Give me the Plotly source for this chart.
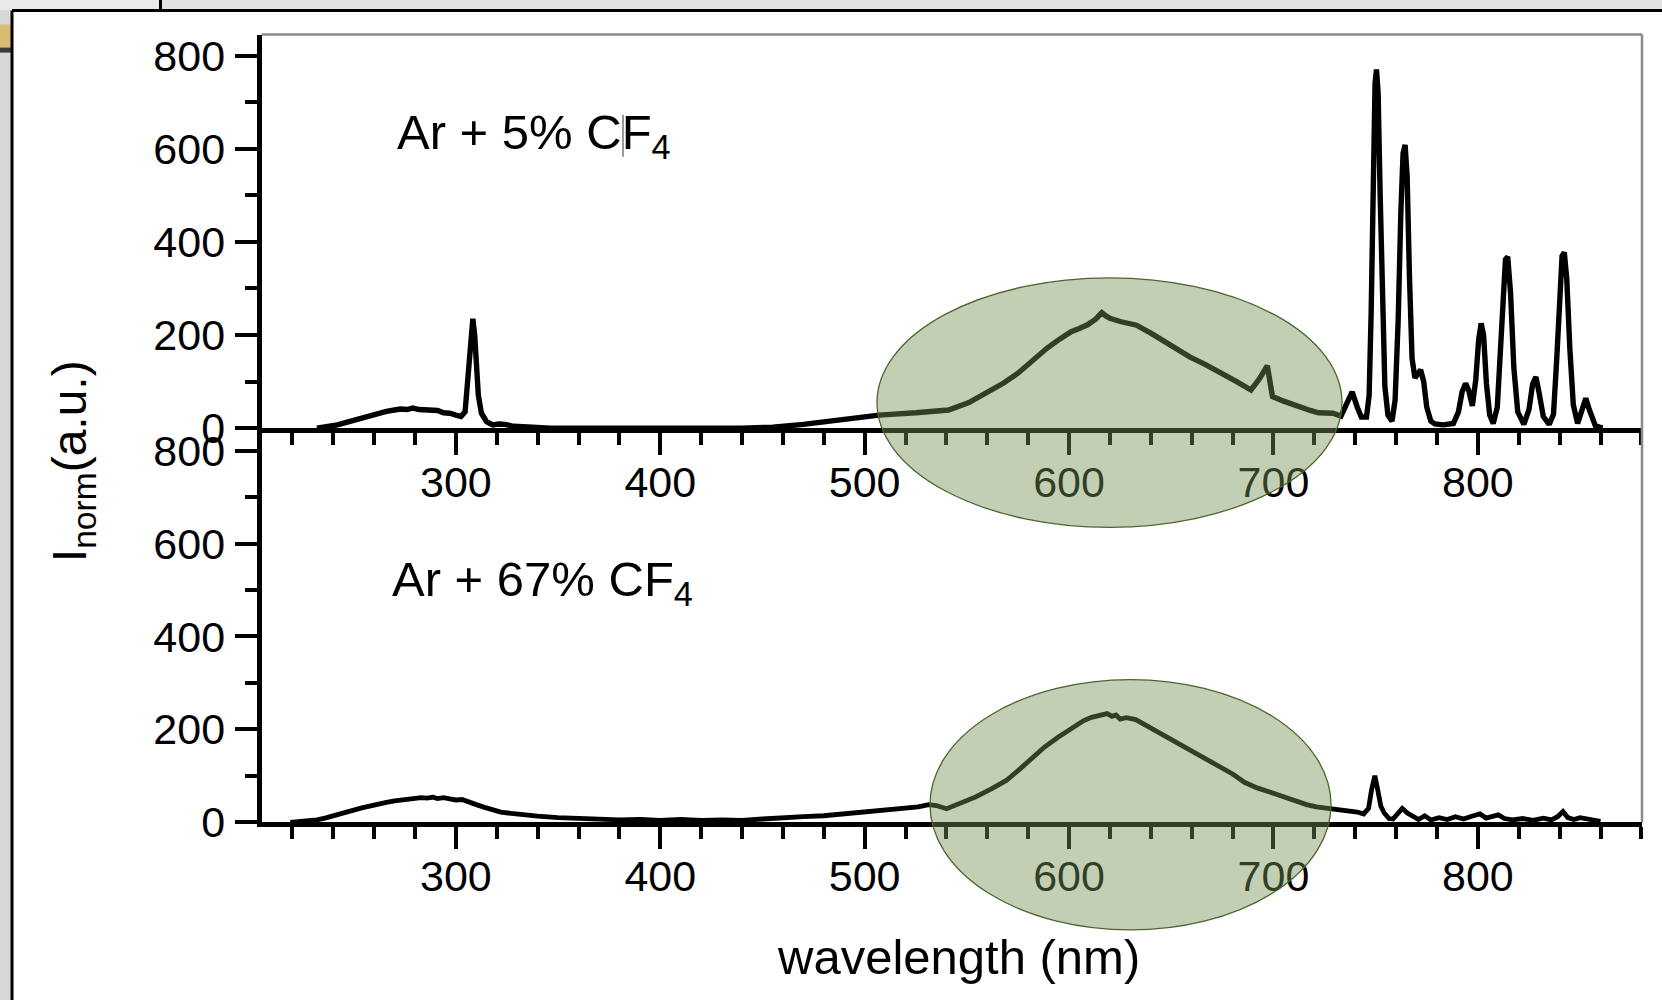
import plotly.graph_objects as go

W, H = 1662, 1000
FONT = "Liberation Sans, Arial, sans-serif"

# ---------------- data ----------------
# Ar + 5% CF4 (upper panel)
wl_top = [232, 238, 242, 246, 250, 254, 258, 262, 266, 270, 273, 276, 279, 282, 285, 288, 291, 294, 297, 300,
          302.5, 304.5, 305.5, 306.5, 307.5, 308.3, 309.2, 310, 311, 312.5, 315, 318, 321, 324, 328, 333, 340, 346,
          440, 455, 470, 490, 507, 525, 541, 551, 561, 568, 575, 582, 589, 595, 601, 605, 609, 613, 616, 618,
          620, 625, 629, 633, 640, 650, 659, 667, 675, 682, 689, 693, 697, 699.5, 705, 712, 718, 722, 729, 733,
          735.5, 738.5, 741, 743, 745.5, 746.8, 747.8, 748.8, 749.7, 750.4, 751.2, 752.2, 753.2, 754.5, 756, 758,
          759.5, 761, 762.3, 763.4, 764.4, 765.4, 766.5, 767.8, 769.2, 770.6, 772, 773.5, 775, 777, 779, 783,
          788, 790.5, 792.3, 794, 795.6, 797.3, 799, 800.4, 801.6, 802.8, 804.2, 805.8, 807.5, 809.5, 811, 812.4,
          813.5, 814.6, 816, 817.6, 819.5, 822.5, 825, 826.8, 828.4, 830, 832, 834.9, 837, 838.6, 840, 841.2,
          842.3, 843.5, 845, 846.7, 848.8, 851, 852.8, 854.5, 857.5, 861]
int_top = [0, 3, 7, 12, 17, 23, 28, 32, 36, 39, 41, 40, 43, 40, 39, 37, 38, 33, 32, 28,
           25, 35, 90, 170, 222, 235, 200, 140, 70, 32, 14, 7, 9, 8, 4, 3, 2, 0,
           0, 2, 8, 18, 28, 33, 39, 55, 78, 97, 118, 145, 171, 190, 207, 214, 222, 234, 248, 241,
           236, 229, 226, 221, 204, 178, 153, 136, 118, 100, 82, 105, 134, 68, 58, 46, 38, 33, 32, 26,
           48, 78, 45, 24, 24, 70, 250, 560, 740, 770, 720, 500, 260, 90, 28, 15,
           60, 230, 460, 590, 608, 540, 330, 150, 108, 118, 125, 100, 45, 15, 9, 7,
           10, 35, 78, 96, 80, 48, 105, 190, 225, 200, 95, 28, 10, 45, 180, 310,
           362, 368, 290, 130, 35, 8, 40, 95, 110, 75, 25, 8, 30, 150, 300, 370,
           377, 320, 170, 50, 10, 40, 64, 40, 5, 0]

# Ar + 67% CF4 (lower panel)
wl_bot = [219, 225, 232, 236, 240.8, 245, 250, 254, 258.2, 262, 266, 270, 273.5, 277, 280, 283, 286, 288.8, 291,
          294, 297.6, 300, 303, 306.3, 310, 314, 317.2, 322, 327, 332.5, 340, 350, 360, 371.8, 380, 390, 400,
          410, 420, 430, 440, 450, 459.2, 470, 480, 492, 500, 507, 513.5, 520, 526.2, 531.3, 535, 540.1, 547,
          554.1, 562, 569.3, 576, 582, 588, 594.6, 600, 604, 607.2, 611, 614.9, 618.6, 621, 623, 625, 628,
          632.6, 638, 645.3, 651, 657.9, 665, 673.1, 680, 685.8, 692, 701, 708, 716.2, 721, 726.3, 731, 736.5,
          741, 744.1, 746.5, 748, 749.6, 751, 752.5, 754.2, 756.5, 758.5, 761, 763, 765.5, 768.2, 771, 774,
          777, 781, 785, 789, 793, 797, 801, 804, 807, 810, 813, 817, 822, 827, 832, 836, 839, 841.6, 844,
          847, 850, 853, 856, 860]
int_bot = [0, 2, 5, 9, 14, 20, 26, 31, 36, 39, 43, 46, 48, 50, 51, 53, 52, 54, 51,
           53, 50, 48, 49, 45, 38, 32, 28, 22, 19, 16, 13, 10, 8, 7, 5, 6, 4,
           6, 4, 5, 4, 7, 10, 12, 14, 19, 21, 24, 26, 29, 33, 38, 36, 29, 40,
           54, 72, 90, 115, 140, 162, 183, 198, 212, 219, 226, 230, 234, 228, 231, 222, 225,
           221, 208, 190, 175, 158, 140, 122, 104, 86, 74, 61, 50, 38, 33, 30, 28, 26,
           22, 18, 30, 70, 100, 70, 35, 20, 8, 7, 20, 30, 20, 12, 6, 14,
           5, 10, 6, 12, 7, 13, 18, 9, 12, 16, 8, 5, 8, 4, 9, 5, 12, 23, 10,
           6, 10, 8, 4, 2]

x_ticks = [300, 400, 500, 600, 700, 800]
y_ticks = [0, 200, 400, 600, 800]
panel_labels = ["Ar + 5% CF<sub>4</sub>", "Ar + 67% CF<sub>4</sub>"]
x_title = "wavelength (nm)"
y_title = "I<sub>norm</sub>(a.u.)"

# ---------------- layout helpers ----------------
# the rendered page comes out slightly compressed vertically; positions below are
# target screen pixels converted to layout pixels.
def px(x):
    return x / W

def py(y):
    lay = (y - 2.5) / 0.9725
    return 1 - lay / H

X0, X1 = 261.7, 1642.0
Y_TOP, Y_MID, Y_BOT = 35.0, 428.0, 821.5

fig = go.Figure()
fig.add_trace(go.Scatter(x=wl_top, y=int_top, mode="lines", line=dict(color="black", width=5.4),
                         xaxis="x", yaxis="y", showlegend=False, hoverinfo="skip"))
fig.add_trace(go.Scatter(x=wl_bot, y=int_bot, mode="lines", line=dict(color="black", width=4.8),
                         xaxis="x2", yaxis="y2", showlegend=False, hoverinfo="skip"))

tickfont = dict(family=FONT, size=43, color="black")

def xaxis(anchor):
    return dict(range=[205, 880.3], domain=[px(X0), px(X1)], anchor=anchor,
                showgrid=False, zeroline=False, showline=True, linecolor="black", linewidth=5,
                ticks="outside", ticklen=22, tickwidth=4, tickcolor="black",
                tickmode="array", tickvals=x_ticks, ticktext=[str(v) for v in x_ticks],
                tickfont=tickfont, ticklabelstandoff=-10,
                minor=dict(tickmode="linear", tick0=0, dtick=20, ticks="outside", ticklen=12,
                           tickwidth=4, tickcolor="black", showgrid=False))

def yaxis(anchor, dom, top):
    return dict(range=[0, top], domain=dom, anchor=anchor,
                showgrid=False, zeroline=False, showline=True, linecolor="black", linewidth=5,
                ticks="outside", ticklen=22, tickwidth=4, tickcolor="black",
                tickmode="array", tickvals=y_ticks, ticktext=[str(v) for v in y_ticks],
                tickfont=tickfont, ticklabelstandoff=1,
                minor=dict(tickmode="linear", tick0=0, dtick=100, ticks="outside", ticklen=12,
                           tickwidth=4, tickcolor="black", showgrid=False))

top_range = 800 + (56.0 - Y_TOP) / ((Y_MID - 56.0) / 800)
bot_range = 800 + (450.5 - Y_MID) / ((Y_BOT - 450.5) / 800)

shapes = []
# slide background pieces
shapes.append(dict(type="rect", xref="paper", yref="paper", x0=0, x1=px(160), y0=1.01, y1=py(11),
                   fillcolor="#e9e9e9", line=dict(width=0), layer="below"))
shapes.append(dict(type="rect", xref="paper", yref="paper", x0=px(162), x1=1, y0=1.01, y1=py(11),
                   fillcolor="#e2e2e2", line=dict(width=0), layer="below"))
shapes.append(dict(type="line", xref="paper", yref="paper", x0=px(160.5), x1=px(160.5), y0=1.01, y1=py(11),
                   line=dict(color="black", width=3), layer="below"))
shapes.append(dict(type="rect", xref="paper", yref="paper", x0=0, x1=px(11), y0=py(11), y1=-0.05,
                   fillcolor="#d8d8d8", line=dict(width=0), layer="below"))
shapes.append(dict(type="rect", xref="paper", yref="paper", x0=0, x1=px(11), y0=py(25), y1=py(48),
                   fillcolor="#d9bc74", line=dict(width=0), layer="below"))
shapes.append(dict(type="rect", xref="paper", yref="paper", x0=0, x1=px(11), y0=py(48), y1=py(53),
                   fillcolor="#3a3a3a", line=dict(width=0), layer="below"))
shapes.append(dict(type="rect", xref="paper", yref="paper", x0=px(12), x1=1.02, y0=py(11), y1=-0.05,
                   fillcolor="white", line=dict(width=0), layer="below"))
shapes.append(dict(type="line", xref="paper", yref="paper", x0=px(12), x1=1.02, y0=py(11), y1=py(11),
                   line=dict(color="black", width=3), layer="below"))
shapes.append(dict(type="line", xref="paper", yref="paper", x0=px(12), x1=px(12), y0=py(11), y1=-0.05,
                   line=dict(color="black", width=3), layer="below"))
# plot frame (top & right, thin grey)
shapes.append(dict(type="line", xref="paper", yref="paper", x0=px(X0), x1=px(X1), y0=py(Y_TOP), y1=py(Y_TOP),
                   line=dict(color="#8a8a8a", width=2.5)))
shapes.append(dict(type="line", xref="paper", yref="paper", x0=px(X1), x1=px(X1), y0=py(Y_TOP), y1=py(Y_BOT),
                   line=dict(color="#8a8a8a", width=2.5)))
# text cursor artifact in upper label
shapes.append(dict(type="line", xref="paper", yref="paper", x0=px(623), x1=px(623), y0=py(115), y1=py(157),
                   line=dict(color="#777777", width=1.5)))
# green highlight ellipses
for (ex0, ex1, ey0, ey1) in [(877, 1342, 278, 527), (930, 1331, 679, 929)]:
    shapes.append(dict(type="circle", xref="paper", yref="paper", x0=px(ex0), x1=px(ex1),
                       y0=py(ey1), y1=py(ey0), fillcolor="rgba(115,144,83,0.435)",
                       line=dict(color="rgb(78,100,45)", width=1.3), layer="above"))

annotations = [
    dict(text=panel_labels[0], x=px(395), y=py(103), xref="paper", yref="paper", xanchor="left",
         yanchor="top", showarrow=False, font=dict(family=FONT, size=49, color="black")),
    dict(text=panel_labels[1], x=px(390), y=py(550), xref="paper", yref="paper", xanchor="left",
         yanchor="top", showarrow=False, font=dict(family=FONT, size=49, color="black")),
    dict(text=x_title, x=px(959), y=py(956), xref="paper", yref="paper", xanchor="center",
         yanchor="middle", showarrow=False, font=dict(family=FONT, size=49, color="black")),
    dict(text=y_title, x=px(73), y=py(461), xref="paper", yref="paper", xanchor="center",
         yanchor="middle", textangle=-90, showarrow=False, font=dict(family=FONT, size=48, color="black")),
]

fig.update_layout(
    width=W, height=H, autosize=False, margin=dict(l=0, r=0, t=0, b=0, pad=0),
    paper_bgcolor="#d8d8d8", plot_bgcolor="rgba(0,0,0,0)",
    xaxis=xaxis("y"), yaxis=yaxis("x", [py(Y_MID), py(Y_TOP)], top_range),
    xaxis2=xaxis("y2"), yaxis2=yaxis("x2", [py(Y_BOT), py(Y_MID)], bot_range),
    shapes=shapes, annotations=annotations, showlegend=False,
)

fig.write_html("out.html", include_plotlyjs=True, config={"displayModeBar": False, "responsive": False})
